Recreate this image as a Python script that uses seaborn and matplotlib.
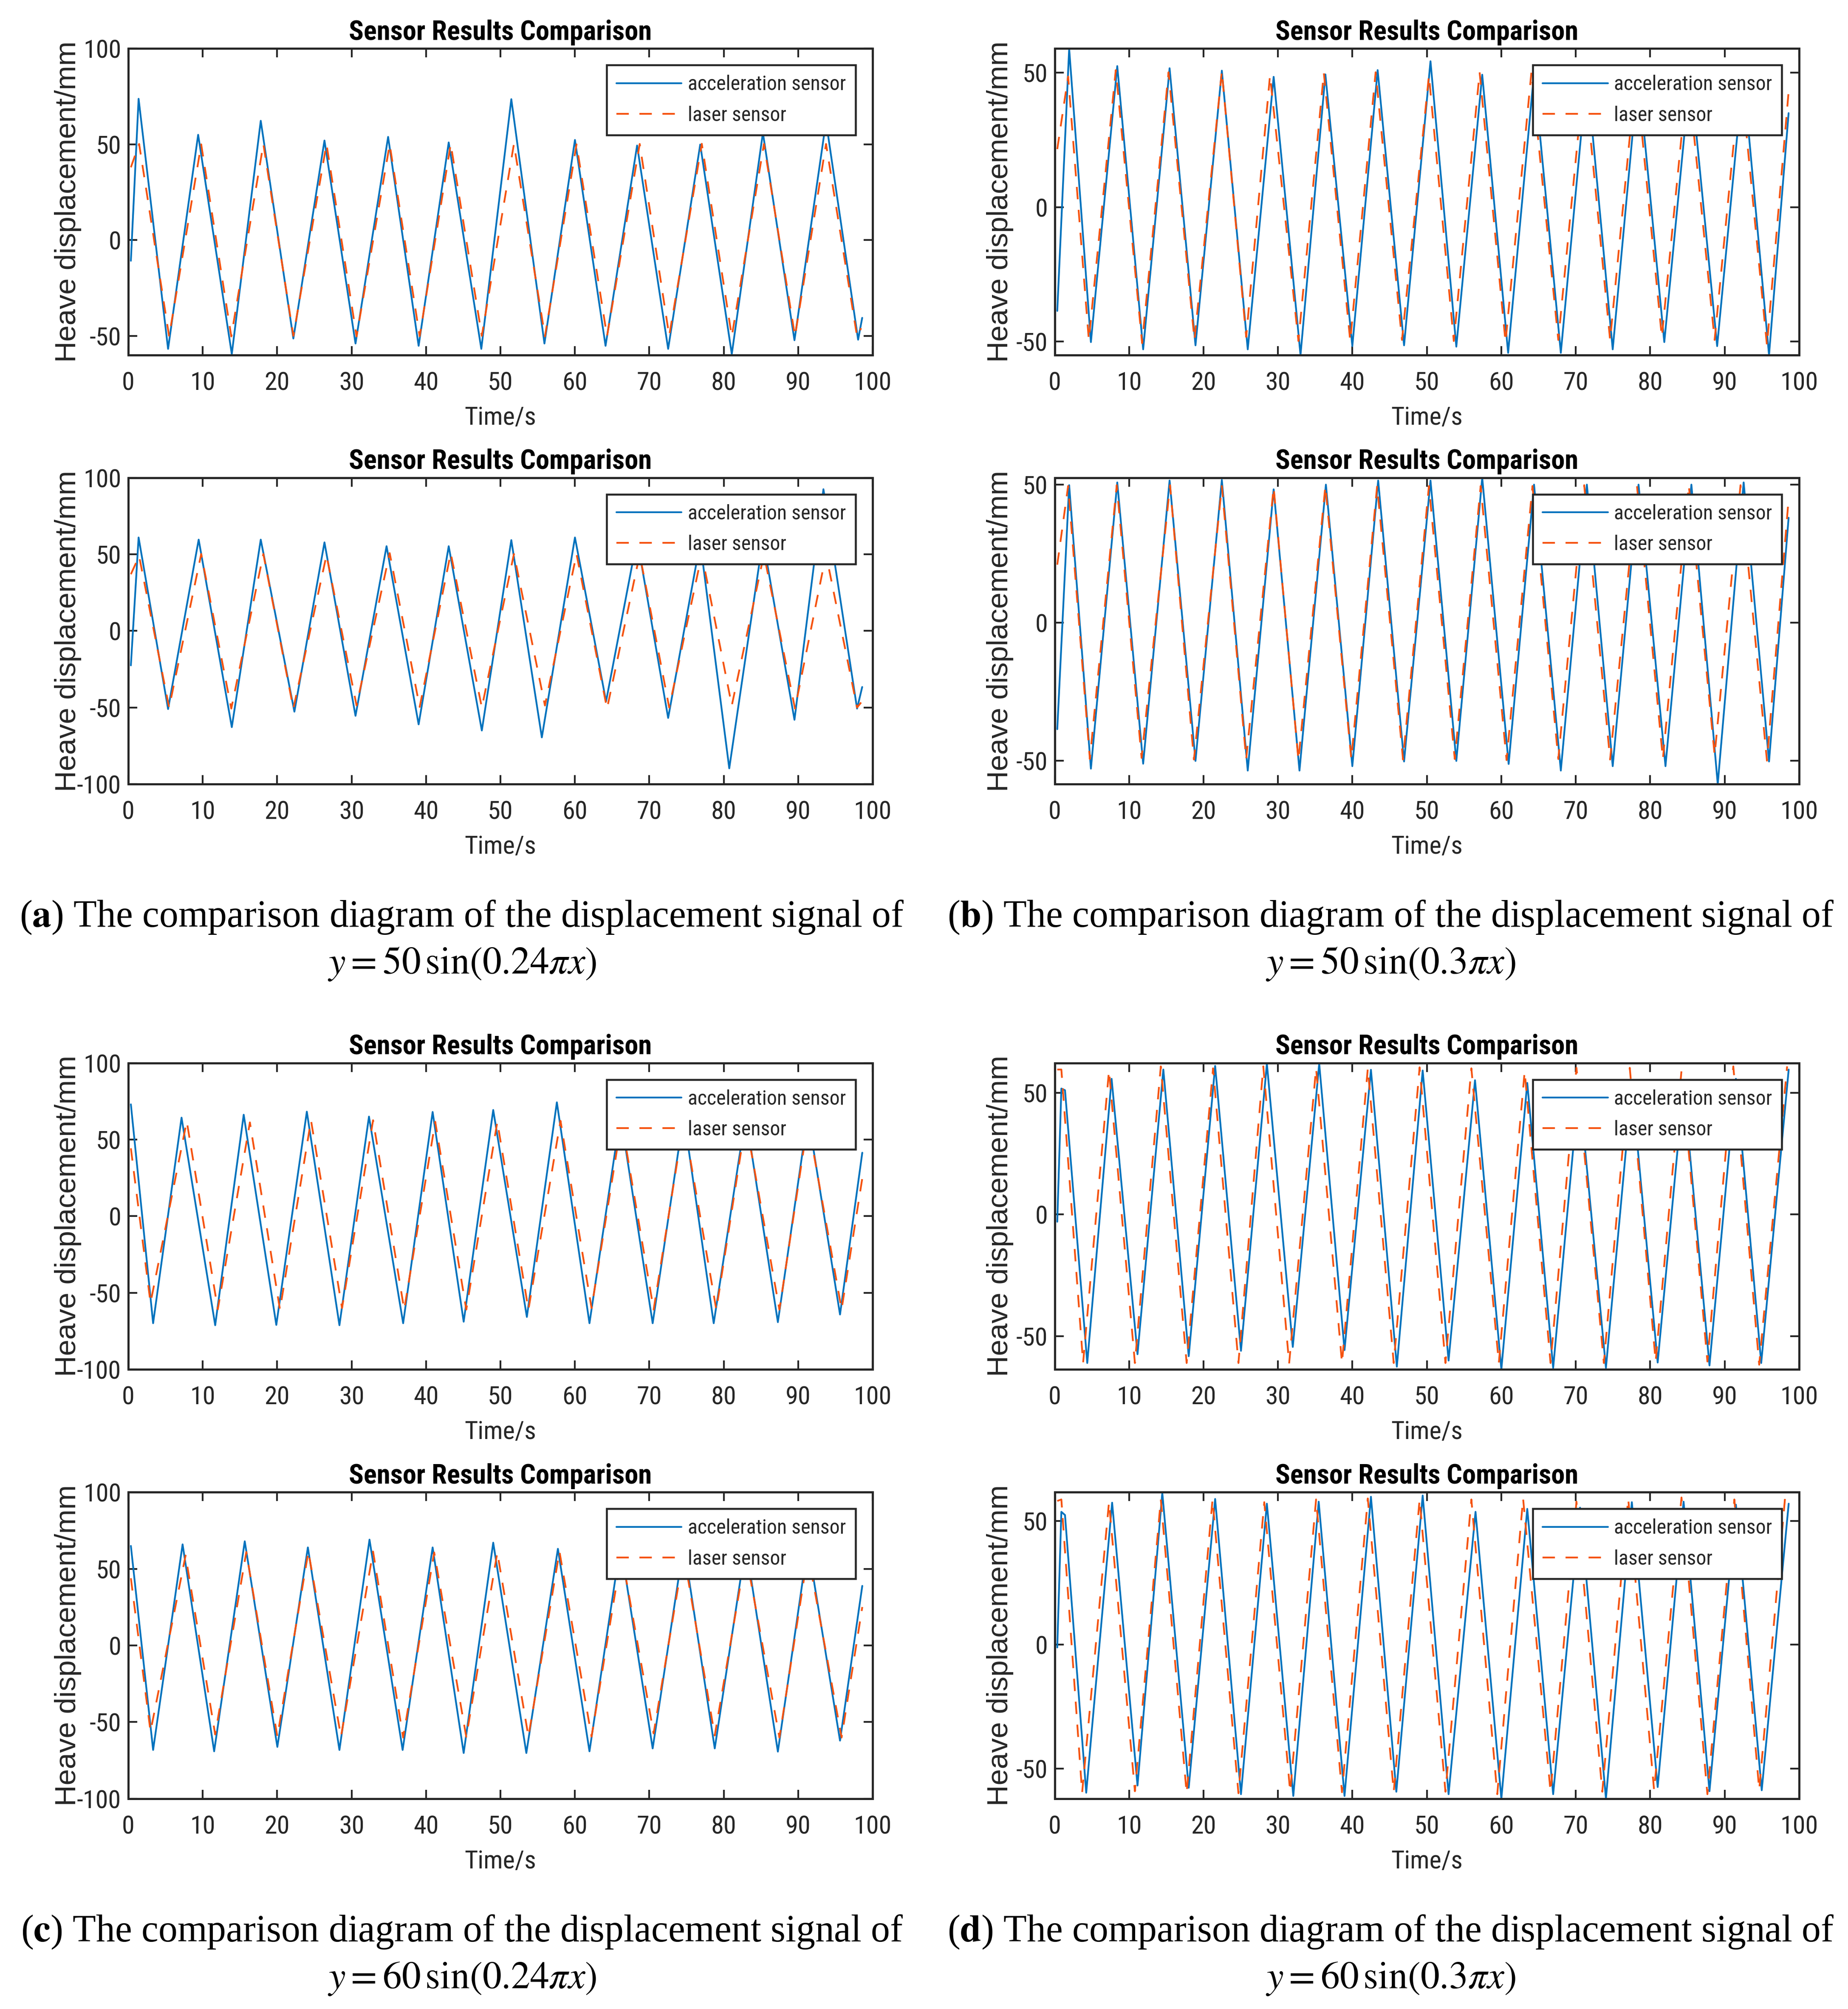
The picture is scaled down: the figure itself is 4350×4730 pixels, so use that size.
import matplotlib
matplotlib.use("Agg")
import matplotlib.pyplot as plt
import seaborn as sns
from matplotlib import font_manager

# ---- values (time in s, heave displacement in mm) ----
# (a) upper
a1_acc_t = [0.35, 1.39, 5.35, 9.39, 13.91, 17.80, 22.18, 26.36, 30.53, 34.91, 39.01, 43.05, 47.43, 51.46,
            55.91, 60.01, 64.12, 68.36, 72.53, 76.84, 81.08, 85.26, 89.50, 93.74, 98.05, 98.60]
a1_acc_v = [-10.8, 73.8, -56.8, 55.0, -59.5, 62.3, -51.4, 52.0, -54.0, 53.9, -55.2, 51.0, -56.8, 73.6,
            -54.0, 52.3, -55.2, 49.4, -56.8, 49.9, -59.5, 56.0, -52.3, 62.0, -52.0, -40.6]
a1_las_t = [0.35, 1.46, 5.49, 9.80, 13.84, 18.15, 22.18, 26.63, 30.67, 35.12, 39.15, 43.32, 47.50, 51.81,
            55.98, 60.22, 64.32, 68.71, 72.67, 77.05, 81.08, 85.40, 89.57, 93.74, 97.91, 98.45]
a1_las_v = [38.0, 50.2, -50.3, 50.0, -50.3, 50.2, -50.0, 50.2, -50.3, 50.0, -50.2, 50.2, -50.0, 50.2,
            -50.3, 50.0, -50.2, 50.2, -50.0, 50.3, -50.3, 50.2, -50.2, 50.2, -50.3, -46.0]
# (a) lower
a2_acc_t = [0.35, 1.39, 5.35, 9.46, 13.91, 17.80, 22.32, 26.36, 30.53, 34.70, 39.01, 43.05, 47.50, 51.46,
            55.56, 60.01, 64.19, 68.36, 72.53, 76.84, 80.74, 85.26, 89.50, 93.39, 97.91, 98.60]
a2_acc_v = [-22.5, 61.0, -51.0, 59.6, -62.8, 59.6, -52.7, 57.8, -55.4, 55.3, -61.0, 55.3, -65.0, 59.3,
            -69.5, 61.0, -46.0, 60.0, -56.8, 58.0, -89.7, 60.0, -58.0, 92.5, -50.7, -36.6]
a2_las_t = [0.35, 1.46, 5.49, 9.80, 13.84, 18.15, 22.18, 26.63, 30.67, 35.12, 39.15, 43.32, 47.50, 51.81,
            55.98, 60.22, 64.32, 68.71, 72.67, 77.05, 81.08, 85.40, 89.57, 93.74, 97.91, 98.45]
a2_las_v = [37.0, 48.8, -50.0, 50.2, -50.7, 50.2, -50.7, 49.5, -48.7, 50.8, -49.6, 50.8, -50.0, 50.2,
            -48.7, 50.2, -50.7, 50.0, -50.0, 50.0, -48.7, 50.0, -50.7, 50.0, -50.0, -46.7]
# (b) upper
b1_acc_t = [0.35, 1.95, 4.87, 8.41, 11.89, 15.44, 18.92, 22.46, 25.94, 29.42, 33.03, 36.37, 39.99, 43.39,
            46.94, 50.49, 53.96, 57.44, 60.92, 64.40, 68.00, 71.50, 74.97, 78.40, 81.90, 85.40, 89.00,
            92.50, 95.97, 98.60]
b1_acc_v = [-38.6, 59.0, -50.2, 52.5, -52.9, 51.7, -51.4, 50.8, -52.9, 48.5, -55.0, 49.4, -51.7, 51.0,
            -51.4, 54.3, -51.9, 49.3, -54.2, 50.0, -54.2, 50.0, -52.9, 50.0, -50.2, 50.0, -51.7,
            50.0, -55.0, 35.0]
b1_las_t = [0.35, 1.81, 4.59, 8.21, 11.75, 15.30, 18.78, 22.46, 25.73, 28.93, 32.75, 36.16, 39.71, 43.12,
            46.66, 50.28, 53.62, 57.09, 60.57, 64.05, 67.66, 71.14, 74.62, 78.10, 81.57, 85.05, 88.66,
            92.14, 95.69, 98.60]
b1_las_v = [21.6, 48.6, -49.4, 51.0, -50.6, 50.2, -49.4, 50.6, -48.3, 49.0, -49.8, 50.0, -49.8, 50.2,
            -49.4, 49.0, -49.8, 50.2, -50.2, 50.3, -49.4, 50.0, -49.4, 50.0, -48.3, 50.0, -49.4,
            50.0, -51.4, 43.0]
# (b) lower
b2_acc_t = [0.35, 1.95, 4.87, 8.41, 11.89, 15.44, 18.92, 22.46, 25.94, 29.42, 32.89, 36.44, 39.99, 43.46,
            46.94, 50.49, 53.96, 57.44, 60.99, 64.40, 68.00, 71.50, 74.97, 78.44, 82.06, 85.54, 89.08,
            92.56, 95.97, 98.60]
b2_acc_v = [-38.6, 49.8, -52.9, 50.8, -51.1, 51.5, -50.1, 51.7, -53.6, 48.3, -53.6, 50.0, -52.0, 51.5,
            -50.3, 51.5, -50.1, 52.5, -51.2, 50.0, -53.6, 50.0, -52.0, 50.0, -52.0, 50.0, -58.5,
            50.8, -50.3, 38.0]
b2_las_t = [0.35, 1.81, 4.73, 8.34, 11.68, 15.50, 18.71, 22.46, 25.73, 29.42, 32.75, 36.37, 39.85, 43.32,
            46.80, 50.28, 53.75, 57.23, 60.71, 64.19, 67.66, 71.14, 74.62, 78.23, 81.71, 85.19, 88.66,
            92.14, 95.69, 98.60]
b2_las_v = [21.0, 49.5, -49.4, 49.8, -49.0, 49.8, -49.6, 49.5, -49.4, 49.0, -49.8, 49.5, -49.4, 49.5,
            -49.6, 49.5, -49.4, 49.5, -49.8, 49.5, -49.4, 49.8, -49.6, 49.5, -49.4, 49.8, -48.0,
            49.8, -50.0, 44.8]
# (c) upper
c1_acc_t = [0.35, 3.34, 7.16, 11.68, 15.51, 19.89, 23.99, 28.37, 32.34, 36.93, 40.89, 45.06, 49.03,
            53.55, 57.58, 61.96, 66.13, 70.45, 74.62, 78.65, 82.96, 87.27, 91.31, 95.62, 98.61]
c1_acc_v = [73.0, -69.9, 64.3, -71.2, 66.2, -71.0, 68.2, -71.2, 65.0, -69.9, 68.0, -68.9, 69.3,
            -65.8, 74.3, -69.9, 66.0, -69.9, 66.0, -69.9, 66.0, -69.2, 66.0, -64.2, 41.4]
c1_las_t = [0.35, 2.99, 7.86, 12.03, 16.34, 20.38, 24.55, 28.72, 32.89, 37.07, 41.24, 45.41, 49.58,
            53.76, 58.07, 62.24, 66.27, 70.58, 74.62, 79.00, 82.96, 87.48, 91.31, 95.83, 98.61]
c1_las_v = [44.3, -56.6, 61.9, -60.8, 61.2, -61.0, 62.6, -60.0, 62.6, -61.0, 61.6, -61.0, 61.6,
            -61.0, 62.2, -60.0, 62.0, -61.0, 62.0, -61.0, 62.0, -61.0, 62.0, -60.8, 24.7]
# (c) lower
c2_acc_t = [0.35, 3.34, 7.30, 11.54, 15.65, 20.03, 24.13, 28.37, 32.41, 36.86, 40.89, 45.06, 49.03,
            53.48, 57.72, 61.96, 66.13, 70.45, 74.62, 78.79, 82.96, 87.27, 91.31, 95.62, 98.61]
c2_acc_v = [65.0, -68.2, 66.0, -69.1, 68.0, -66.2, 64.0, -68.2, 69.1, -68.2, 64.0, -70.2, 67.1,
            -70.2, 63.1, -69.1, 66.0, -67.2, 66.0, -67.2, 66.0, -69.3, 66.0, -62.1, 38.9]
c2_las_t = [0.35, 2.99, 7.70, 11.68, 15.86, 20.03, 24.20, 28.58, 32.89, 36.93, 41.10, 45.41, 49.58,
            53.76, 57.93, 62.24, 66.27, 70.58, 74.62, 78.79, 82.96, 87.48, 91.31, 95.83, 98.61]
c2_las_v = [43.9, -56.1, 58.7, -58.1, 61.0, -59.5, 61.3, -59.5, 61.3, -60.1, 60.7, -59.7, 60.7,
            -59.5, 61.3, -59.5, 60.0, -57.4, 60.0, -58.8, 60.0, -60.1, 60.0, -60.1, 25.1]
# (d) upper
d1_acc_t = [0.35, 0.90, 1.39, 4.38, 7.65, 11.13, 14.60, 18.01, 21.56, 25.03, 28.51, 31.99, 35.54, 38.94,
            42.49, 45.97, 49.44, 52.92, 56.47, 60.01, 63.49, 66.97, 70.44, 74.06, 77.54, 81.01, 84.49,
            87.97, 91.52, 94.92, 98.61]
d1_acc_v = [-3.0, 51.7, 51.0, -61.0, 55.7, -57.4, 59.5, -58.2, 61.0, -56.0, 62.0, -54.4, 61.9, -55.7,
            59.4, -62.5, 59.1, -60.0, 55.1, -63.6, 54.0, -63.0, 53.0, -63.0, 53.0, -60.8, 53.0,
            -62.0, 55.7, -61.0, 59.5]
d1_las_t = [0.35, 0.90, 3.82, 7.30, 10.78, 14.26, 17.73, 21.28, 24.69, 28.03, 31.50, 35.12, 38.60, 42.07,
            45.55, 49.03, 52.50, 55.98, 59.67, 63.14, 66.62, 70.10, 73.78, 77.26, 80.74, 84.21, 87.69,
            91.17, 94.65, 98.40]
d1_las_v = [59.5, 59.5, -61.0, 59.1, -61.0, 60.8, -61.0, 60.0, -61.0, 60.8, -61.2, 60.0, -61.0, 60.0,
            -61.0, 60.4, -61.0, 60.0, -61.0, 58.7, -61.0, 60.2, -61.0, 60.2, -60.4, 59.1, -60.4,
            60.8, -61.7, 60.8]
# (d) lower
d2_acc_t = [0.35, 0.90, 1.39, 4.24, 7.72, 11.13, 14.46, 18.01, 21.56, 25.03, 28.51, 32.06, 35.47, 38.94,
            42.49, 45.90, 49.44, 52.92, 56.54, 60.01, 63.49, 66.97, 70.58, 74.06, 77.54, 81.01, 84.49,
            87.97, 91.52, 94.99, 98.61]
d2_acc_v = [-1.1, 53.7, 52.4, -59.8, 57.4, -56.9, 61.4, -57.8, 58.9, -60.4, 57.0, -61.1, 57.8, -61.1,
            59.8, -59.4, 60.3, -60.4, 53.7, -62.2, 54.9, -60.4, 55.4, -62.2, 57.6, -57.5, 57.8,
            -59.2, 56.6, -58.8, 57.0]
d2_las_t = [0.35, 0.90, 3.69, 7.30, 10.78, 14.26, 17.73, 21.21, 24.69, 28.16, 31.64, 35.12, 38.60, 42.07,
            45.55, 49.03, 52.50, 55.98, 59.46, 62.93, 66.62, 70.10, 73.57, 77.05, 80.53, 84.21, 87.69,
            91.31, 94.65, 98.12]
d2_las_v = [58.1, 58.7, -59.8, 57.6, -59.2, 58.7, -60.0, 58.7, -60.0, 57.6, -59.4, 58.7, -59.6, 59.1,
            -59.4, 58.7, -59.4, 58.7, -60.4, 59.1, -59.4, 57.8, -59.4, 59.1, -58.8, 59.5, -60.4,
            58.7, -58.6, 59.3]

x_ticks = list(range(0, 101, 10))
title = "Sensor Results Comparison"
series_names = ["acceleration sensor", "laser sensor"]
captions = [
    (r"($\mathbf{a}$) The comparison diagram of the displacement signal of", r"$y = 50\,\sin(0.24\pi x)$"),
    (r"($\mathbf{b}$) The comparison diagram of the displacement signal of", r"$y = 50\,\sin(0.3\pi x)$"),
    (r"($\mathbf{c}$) The comparison diagram of the displacement signal of", r"$y = 60\,\sin(0.24\pi x)$"),
    (r"($\mathbf{d}$) The comparison diagram of the displacement signal of", r"$y = 60\,\sin(0.3\pi x)$"),
]

# panel order: row by row, left then right
panels = [
    (a1_acc_t, a1_acc_v, a1_las_t, a1_las_v, (-60, 100), [-50, 0, 50, 100]),
    (b1_acc_t, b1_acc_v, b1_las_t, b1_las_v, (-55, 59), [-50, 0, 50]),
    (a2_acc_t, a2_acc_v, a2_las_t, a2_las_v, (-100, 100), [-100, -50, 0, 50, 100]),
    (b2_acc_t, b2_acc_v, b2_las_t, b2_las_v, (-58.5, 52.5), [-50, 0, 50]),
    (c1_acc_t, c1_acc_v, c1_las_t, c1_las_v, (-100, 100), [-100, -50, 0, 50, 100]),
    (d1_acc_t, d1_acc_v, d1_las_t, d1_las_v, (-63.6, 62.2), [-50, 0, 50]),
    (c2_acc_t, c2_acc_v, c2_las_t, c2_las_v, (-100, 100), [-100, -50, 0, 50, 100]),
    (d2_acc_t, d2_acc_v, d2_las_t, d2_las_v, (-62.2, 61.6), [-50, 0, 50]),
]

sns.set_style("ticks")

# MATLAB export looks horizontally squeezed; use a narrow face if there is one
names = {f.name for f in font_manager.fontManager.ttflist}
SANS, shrink = "Liberation Sans", 0.84
for cand in ["Liberation Sans Narrow", "Roboto Condensed", "DejaVu Sans Condensed"]:
    if cand in names:
        SANS, shrink = cand, 1.0
        break

plt.rcParams["font.family"] = [SANS, "DejaVu Sans"]
plt.rcParams["mathtext.fontset"] = "stix"
plt.rcParams["axes.unicode_minus"] = False

BLUE = "#0072BD"
RED = "#F5520F"
INK = "#262626"

fig = plt.figure(figsize=(14.5, 4730 / 300), dpi=300)
lefts = [0.0694, 0.5707]
bottoms = [0.8233, 0.6097, 0.3184, 0.1047]
W, H = 0.4028, 0.1525

for i, (acc_t, acc_v, las_t, las_v, ylim, yticks) in enumerate(panels):
    row, col = divmod(i, 2)
    ax = fig.add_axes([lefts[col], bottoms[row], W, H])
    sns.lineplot(x=acc_t, y=acc_v, ax=ax, color=BLUE, lw=1.0, estimator=None, sort=False,
                 label=series_names[0])
    sns.lineplot(x=las_t, y=las_v, ax=ax, color=RED, lw=1.0, estimator=None, sort=False,
                 linestyle=(0, (7, 6)), label=series_names[1])
    ax.set_xlim(0, 100)
    ax.set_ylim(*ylim)
    ax.set_xticks(x_ticks)
    ax.set_yticks(yticks)
    ax.tick_params(direction="in", length=5, width=1.0, top=True, right=True,
                   labelsize=14.5 * shrink, colors=INK, labelcolor=INK)
    ax.tick_params(axis="x", pad=9.0)
    ax.tick_params(axis="y", pad=4.0)
    for s in ax.spines.values():
        s.set_visible(True)
        s.set_linewidth(1.2)
        s.set_color(INK)
    ax.set_title(title, fontsize=15.5 * shrink, fontweight="bold", pad=5, color="black")
    ax.set_xlabel("Time/s", fontsize=14.5 * shrink, color=INK)
    ax.xaxis.set_label_coords(0.5, -0.165)
    ax.set_ylabel("Heave displacement/mm", fontsize=16.5, color=INK, family="Liberation Sans")
    ax.yaxis.set_label_coords(-0.063 if col == 0 else -0.055, 0.5)
    leg = ax.legend(loc="upper right", bbox_to_anchor=(0.977, 0.946), borderaxespad=0,
                    frameon=True, fancybox=False, framealpha=1, edgecolor=INK,
                    prop={"family": SANS, "size": 11.5 * shrink}, handlelength=3.2,
                    handletextpad=0.3, borderpad=0.48, labelspacing=0.55)
    leg.get_frame().set_linewidth(1.1)

cap_x = [0.25, 0.7525]
cap_y = [(0.5387, 0.5154), (0.0336, 0.0104)]
for k, (line1, line2) in enumerate(captions):
    r, c = divmod(k, 2)
    fig.text(cap_x[c], cap_y[r][0], line1, ha="center", va="baseline", fontsize=21.5,
             family="Liberation Serif", color="black")
    fig.text(cap_x[c], cap_y[r][1], line2, ha="center", va="baseline", fontsize=21.5,
             family="Liberation Serif", color="black")

fig.savefig("out.png", dpi=300, facecolor="white")
